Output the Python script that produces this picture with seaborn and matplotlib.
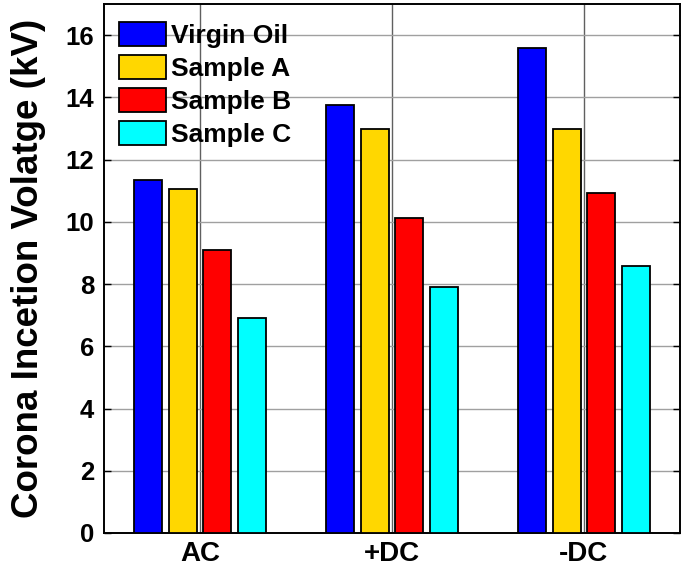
import matplotlib
matplotlib.use("Agg")
import matplotlib.pyplot as plt
import seaborn as sns
import pandas as pd

categories = ["AC", "+DC", "-DC"]
series = ["Virgin Oil", "Sample A", "Sample B", "Sample C"]
virgin_oil = [11.34, 13.75, 15.57]
sample_a = [11.05, 12.98, 12.98]
sample_b = [9.11, 10.11, 10.93]
sample_c = [6.90, 7.91, 8.59]
colors = ["#0000FF", "#FFD700", "#FF0000", "#00FFFF"]
y_ticks = [0, 2, 4, 6, 8, 10, 12, 14, 16]
y_label = "Corona Incetion Volatge (kV)"

rows = []
for name, vals in zip(series, [virgin_oil, sample_a, sample_b, sample_c]):
    for c, v in zip(categories, vals):
        rows.append({"cat": c, "series": name, "value": v})
df = pd.DataFrame(rows)

sns.set_theme(style="white")
plt.rcParams['font.family'] = ['Liberation Sans', 'DejaVu Sans']
plt.rcParams['text.color'] = 'black'
plt.rcParams['axes.labelcolor'] = 'black'
plt.rcParams['xtick.color'] = 'black'
plt.rcParams['ytick.color'] = 'black'

fig = plt.figure(figsize=(6.85, 5.73), dpi=100)
ax = fig.add_axes([104/685, 40/573, 576/685, 529/573])

sns.barplot(data=df, x="cat", y="value", hue="series", order=categories,
            hue_order=series, palette=colors, width=0.72, gap=0.19,
            edgecolor="black", linewidth=1.3, errorbar=None, ax=ax, zorder=3,
            saturation=1)

ax.set_xlim(-0.5, 2.5)
ax.set_ylim(0, 17)
ax.set_yticks(y_ticks)
ax.set_yticklabels([str(t) for t in y_ticks], fontsize=18.5, fontweight="bold")
ax.set_xticks(range(len(categories)))
ax.set_xticklabels(categories, fontsize=20, fontweight="bold")
ax.set_xlabel("")
ax.set_ylabel(y_label, fontsize=26.5, fontweight="bold", labelpad=14)

ax.set_axisbelow(True)
ax.yaxis.grid(True, color="#a0a0a0", linewidth=1.0)
ax.xaxis.grid(True, color="#606060", linewidth=1.0)
ax.tick_params(axis="y", direction="in", length=5, width=1, left=True, right=True, pad=7)
ax.tick_params(axis="x", direction="in", length=0, pad=6)
for s in ax.spines.values():
    s.set_visible(True)
    s.set_color("black")
    s.set_linewidth(1.4)

leg = ax.legend(loc="upper left", bbox_to_anchor=(15/576, 1 - 18/529), frameon=False,
                prop={"size": 19, "weight": "bold"}, handlelength=1.78,
                handleheight=1.0, labelspacing=0.27, handletextpad=0.2,
                borderaxespad=0, borderpad=0)
for p in leg.get_patches():
    p.set_edgecolor("black")
    p.set_linewidth(1.3)

fig.savefig("out.png", dpi=100)
